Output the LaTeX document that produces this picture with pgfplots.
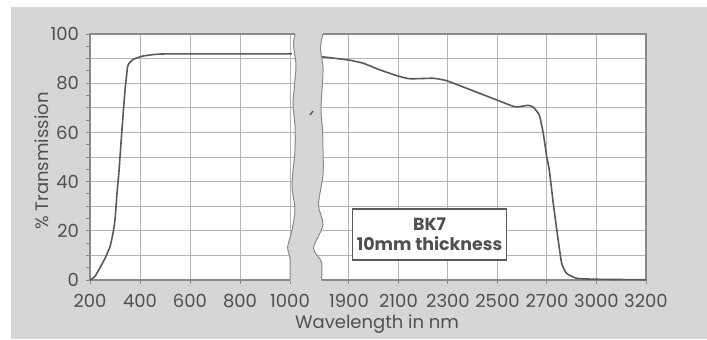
\documentclass[border=0pt]{standalone}
\usepackage{pgfplots}
\pgfplotsset{compat=1.18}
\usepackage{pgfplotstable}
\usepackage{fontspec}
\setmainfont{Poppins}
\definecolor{bggray}{HTML}{D6D6D6}
\definecolor{framegray}{HTML}{8A8A8A}
\definecolor{gridgray}{HTML}{B4B4B4}
\definecolor{curvegray}{HTML}{5A5A5A}
\definecolor{txtgray}{HTML}{505050}

% Left panel: wavelength (nm), transmission (%)
\pgfplotstableread{
wl T
200 0
220 1.5
240 5.0
260 8.8
280 13.5
292 19
300 24.4
309 36.6
315 43
320 50
330 64
340 77
350 86.5
358 88.3
375 89.8
410 91
450 91.6
500 91.9
700 91.9
1007 91.9
}\leftdata

% Right panel: wavelength (nm), transmission (%)
\pgfplotstableread{
wl T
1786 90.8
1900 89.4
1958 88.1
2025 85.4
2099 82.9
2146 81.8
2241 82.0
2295 81.0
2376 77.9
2497 73.2
2571 70.4
2624 71.0
2645 70.2
2669 67.0
2685 59.6
2699 50.1
2714 44.7
2738 31.2
2765 17.6
2789 6.8
2819 2.7
2880 0.7
3001 0.3
3200 0.1
}\rightdata

\begin{document}
\begin{tikzpicture}[font=\fontsize{9}{10}\selectfont\color{txtgray}]
\useasboundingbox (0,0) rectangle (353.5pt,169.5pt);
\fill[white] (0,0) rectangle (353.5pt,169.5pt);
\fill[bggray] (5.5pt,0pt) rectangle (353.5pt,166pt);

\pgfplotsset{
  every axis/.append style={
    scale only axis, ymin=0, ymax=100,
    axis background/.style={fill=white},
    axis line style={draw=framegray, line width=0.6pt},
    grid=major,
    grid style={draw=gridgray, line width=0.5pt},
    tick align=outside,
    major tick length=2pt, minor tick length=2pt,
    tick style={draw=framegray, line width=0.5pt},
    ticklabel style={font=\fontsize{9}{10}\selectfont, text=txtgray},
    /pgf/number format/assume math mode=true,
    clip=true,
  },
}

\begin{axis}[
  at={(45pt,29.5pt)}, anchor=south west,
  width=105pt, height=123pt,
  xmin=200, xmax=1040,
  xtick={200,400,600,800,1000},
  xticklabels={200,400,600,800,1000},
  ytick={0,10,...,100},
  yticklabels={0,{},20,{},40,{},60,{},80,{},100},
  minor y tick num=1,
  tick pos=left,
  xticklabel style={yshift=-1.5pt},
]
\addplot[curvegray, line width=0.8pt, mark=none, smooth, tension=0.3] table[x=wl, y=T] {\leftdata};
\end{axis}

\begin{axis}[
  at={(156pt,29.5pt)}, anchor=south west,
  width=167pt, height=123pt,
  xmin=-0.747, xmax=6,
  xtick={0,1,2,3,4,5,6},
  xticklabels={1900,2100,2300,2500,2700,3000,3200},
  ytick={0,10,...,100},
  yticklabels={},
  tick pos=left,
  ytick style={draw=none},
  xticklabel style={yshift=-1.5pt},
]
\addplot[curvegray, line width=0.8pt, mark=none, smooth, tension=0.3] table[
  x expr={\thisrow{wl}<=2700 ? (\thisrow{wl}-1900)/200 : (\thisrow{wl}<=3000 ? 4+(\thisrow{wl}-2700)/300 : 5+(\thisrow{wl}-3000)/200)},
  y=T] {\rightdata};
\end{axis}

% axis break band
\fill[bggray] plot[smooth, tension=0.5] coordinates {(147.5pt,153.2pt) (147.5pt,152.5pt) (146.75pt,147pt) (148pt,137pt) (147.25pt,127pt) (146.5pt,117pt) (147.5pt,107pt) (147.5pt,94.5pt) (146pt,77pt) (147.5pt,64.5pt) (145.75pt,53.5pt) (143.75pt,45.5pt) (145pt,40.5pt) (145pt,29pt)}
  -- plot[smooth, tension=0.5] coordinates {(160.75pt,29pt) (160.75pt,38.5pt) (156.75pt,45.5pt) (161.5pt,57pt) (159.25pt,67pt) (161.5pt,82pt) (161.5pt,94.5pt) (161.25pt,104.5pt) (160.5pt,114.5pt) (161pt,124.5pt) (161.5pt,135.5pt) (160.25pt,145.5pt) (161.5pt,153.2pt)} -- cycle;
\draw[framegray, line width=0.5pt] plot[smooth, tension=0.5] coordinates {(147.5pt,152.5pt) (146.75pt,147pt) (148pt,137pt) (147.25pt,127pt) (146.5pt,117pt) (147.5pt,107pt) (147.5pt,94.5pt) (146pt,77pt) (147.5pt,64.5pt) (145.75pt,53.5pt) (143.75pt,45.5pt) (145pt,40.5pt) (145pt,29.5pt)};
\draw[framegray, line width=0.5pt] plot[smooth, tension=0.5] coordinates {(160.75pt,29.5pt) (160.75pt,38.5pt) (156.75pt,45.5pt) (161.5pt,57pt) (159.25pt,67pt) (161.5pt,82pt) (161.5pt,94.5pt) (161.25pt,104.5pt) (160.5pt,114.5pt) (161pt,124.5pt) (161.5pt,135.5pt) (160.25pt,145.5pt) (161.5pt,152.5pt)};
\draw[curvegray, line width=0.7pt] (155pt,112pt) -- (156.5pt,114pt);

% labels
\node[rotate=90] at (21pt,89pt) {\% Transmission};
\node at (188.5pt,7.5pt) {Wavelength in nm};

% annotation box
\node[draw=curvegray, line width=0.6pt, fill=white, text=txtgray, minimum width=77pt, minimum height=25.5pt,
  align=center, inner sep=1pt, font=\fontsize{8.7}{10}\selectfont\bfseries] at (214.8pt,52.25pt)
  {BK7\\10mm thickness};
\end{tikzpicture}
\end{document}
